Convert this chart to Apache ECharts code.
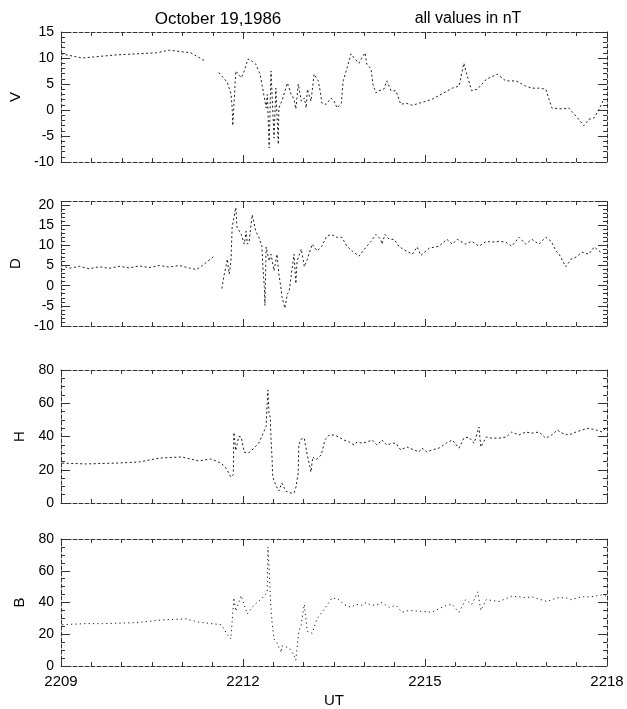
<!DOCTYPE html>
<html>
<head>
<meta charset="utf-8">
<script src="https://cdn.jsdelivr.net/npm/echarts@6/dist/echarts.min.js"></script>
<style>
  html, body { margin: 0; padding: 0; background: #fff; }
  #chart { width: 627px; height: 709px; }
</style>
</head>
<body>
<div id="chart"></div>
<script>
// Magnetometer components, October 19, 1986 (UT given as hhmm with decimal minutes)
const T0 = 2209;
const xTickLabels = ['2209', '2212', '2215', '2218'];
const panelNames = ['V', 'D', 'H', 'B'];

const vTime = [2209.00, 2209.35, 2209.91, 2210.57, 2210.78, 2210.99, 2211.14, 2211.39, 2211.50, 2211.60,
  2211.74, 2211.80, 2211.82, 2211.83, 2211.88, 2211.97, 2212.02, 2212.08, 2212.15, 2212.21,
  2212.28, 2212.31, 2212.38, 2212.40, 2212.43, 2212.46, 2212.51, 2212.54, 2212.58, 2212.59,
  2212.64, 2212.73, 2212.79, 2212.84, 2212.87, 2212.91, 2212.96, 2213.01, 2213.04, 2213.06,
  2213.12, 2213.17, 2213.20, 2213.24, 2213.27, 2213.30, 2213.37, 2213.45, 2213.50, 2213.55,
  2213.62, 2213.65, 2213.70, 2213.78, 2213.83, 2213.91, 2213.96, 2214.01, 2214.04, 2214.11,
  2214.14, 2214.19, 2214.24, 2214.32, 2214.37, 2214.44, 2214.52, 2214.60, 2214.69, 2214.79,
  2214.90, 2215.02, 2215.12, 2215.28, 2215.45, 2215.56, 2215.64, 2215.68, 2215.72, 2215.77,
  2215.86, 2216.01, 2216.19, 2216.33, 2216.50, 2216.66, 2216.76, 2216.88, 2216.99, 2217.09,
  2217.26, 2217.37, 2217.49, 2217.62, 2217.70, 2217.79, 2217.87, 2217.95];
const vValue = [10.8, 10.0, 10.6, 11.0, 11.5, 11.2, 11.0, 9.3, '-', 7.2,
  5.3, 3.1, 0.4, -3.0, 7.5, 6.2, 7.5, 9.8, 9.4, 8.8,
  6.9, 5.0, 0.4, 3.0, -7.3, 7.5, -5.4, 4.2, -6.6, 0.4,
  1.7, 5.2, 3.1, 2.1, 0.2, 5.0, 1.7, 2.3, 0.4, 4.0,
  1.7, 6.9, 7.1, 5.6, 3.7, 1.3, 1.1, 2.3, 1.7, 0.4,
  1.3, 5.6, 7.5, 10.8, 10.0, 9.0, 10.0, 11.0, 8.8, 7.9,
  5.0, 3.3, 3.7, 4.0, 5.6, 3.7, 3.7, 1.1, 1.3, 0.9,
  1.3, 1.7, 2.1, 3.1, 4.2, 4.6, 9.0, 7.2, 5.6, 3.7,
  4.0, 5.9, 6.9, 5.6, 5.6, 4.6, 4.2, 4.2, 4.0, 0.4,
  0.2, 0.4, -1.2, -3.0, -1.8, -1.5, 0.2, 2.1];

const dTime = [2209.00, 2209.13, 2209.30, 2209.46, 2209.63, 2209.79, 2209.96, 2210.12, 2210.29, 2210.45,
  2210.62, 2210.78, 2210.95, 2211.11, 2211.23, 2211.32, 2211.52, 2211.58, 2211.65, 2211.69,
  2211.72, 2211.74, 2211.77, 2211.80, 2211.82, 2211.88, 2211.90, 2211.93, 2211.97, 2212.02,
  2212.05, 2212.07, 2212.10, 2212.15, 2212.16, 2212.21, 2212.26, 2212.31, 2212.33, 2212.35,
  2212.36, 2212.38, 2212.40, 2212.43, 2212.46, 2212.51, 2212.56, 2212.59, 2212.63, 2212.64,
  2212.69, 2212.73, 2212.76, 2212.79, 2212.84, 2212.87, 2212.89, 2212.96, 2213.01, 2213.06,
  2213.14, 2213.22, 2213.30, 2213.38, 2213.45, 2213.55, 2213.63, 2213.71, 2213.80, 2213.91,
  2214.03, 2214.11, 2214.19, 2214.27, 2214.29, 2214.34, 2214.41, 2214.49, 2214.57, 2214.69,
  2214.79, 2214.87, 2214.93, 2215.07, 2215.23, 2215.36, 2215.45, 2215.53, 2215.67, 2215.77,
  2215.89, 2216.01, 2216.10, 2216.22, 2216.33, 2216.43, 2216.55, 2216.66, 2216.76, 2216.88,
  2216.99, 2217.08, 2217.16, 2217.21, 2217.32, 2217.41, 2217.49, 2217.59, 2217.70, 2217.79,
  2217.92];
const dValue = [5.1, 4.3, 4.8, 4.2, 4.7, 4.3, 4.8, 4.4, 4.9, 4.5,
  5.0, 4.6, 5.0, 4.4, 4.0, 4.9, 7.3, '-', -0.7, 2.9,
  4.9, 6.6, 2.9, 6.1, 14.5, 19.4, 14.5, 14.7, 12.7, 10.3,
  13.5, 10.3, 11.0, 17.6, 18.0, 13.5, 12.0, 9.8, 3.7, -0.2,
  -4.9, 9.6, 9.8, 6.1, 7.8, 3.7, 7.8, 2.9, -1.2, -2.7,
  -5.6, -2.0, -1.5, 2.2, 7.8, 0.5, 6.1, 9.1, 4.7, 6.6,
  10.3, 8.6, 9.8, 12.3, 12.7, 12.0, 12.0, 9.8, 8.6, 7.3,
  9.6, 11.0, 12.7, 11.5, 10.3, 12.7, 11.5, 11.5, 9.7, 8.6,
  7.8, 9.6, 7.5, 9.3, 9.8, 11.5, 10.3, 11.5, 10.3, 11.0,
  9.8, 11.0, 10.8, 11.0, 10.8, 9.8, 12.0, 10.3, 11.5, 10.3,
  12.0, 11.0, 8.6, 7.8, 4.7, 6.6, 7.1, 8.3, 7.8, 9.6,
  8.0];

const hTime = [2209.02, 2209.41, 2209.91, 2210.29, 2210.62, 2210.99, 2211.27, 2211.47, 2211.64, 2211.72,
  2211.80, 2211.84, 2211.85, 2211.88, 2211.93, 2211.97, 2212.02, 2212.10, 2212.18, 2212.26,
  2212.31, 2212.38, 2212.41, 2212.43, 2212.45, 2212.46, 2212.48, 2212.49, 2212.51, 2212.54,
  2212.59, 2212.64, 2212.71, 2212.79, 2212.84, 2212.86, 2212.87, 2212.91, 2212.92, 2212.96,
  2213.01, 2213.04, 2213.05, 2213.12, 2213.15, 2213.20, 2213.25, 2213.29, 2213.35, 2213.42,
  2213.50, 2213.58, 2213.66, 2213.75, 2213.83, 2213.88, 2213.96, 2214.04, 2214.13, 2214.21,
  2214.29, 2214.37, 2214.46, 2214.52, 2214.60, 2214.70, 2214.82, 2214.90, 2214.95, 2215.03,
  2215.12, 2215.23, 2215.35, 2215.45, 2215.56, 2215.64, 2215.72, 2215.81, 2215.89, 2215.92,
  2216.01, 2216.10, 2216.22, 2216.34, 2216.43, 2216.55, 2216.66, 2216.76, 2216.88, 2216.99,
  2217.09, 2217.18, 2217.26, 2217.37, 2217.49, 2217.59, 2217.70, 2217.82, 2217.92, 2217.98];
const hValue = [24.0, 23.5, 24.0, 24.7, 27.0, 27.7, 25.3, 26.5, 24.0, 21.0,
  15.6, 17.0, 42.5, 31.5, 40.0, 39.7, 30.5, 30.3, 33.0, 36.0,
  40.0, 46.0, 68.0, 53.0, 51.7, 40.0, 26.0, 15.6, 15.0, 10.8,
  7.2, 12.0, 7.0, 6.0, 6.0, 4.8, 9.0, 18.0, 35.0, 38.5,
  39.0, 37.9, 30.7, 18.6, 27.7, 25.9, 27.7, 28.9, 37.9, 40.9,
  40.9, 39.7, 37.9, 36.7, 34.9, 36.7, 36.0, 36.7, 37.9, 34.9,
  37.9, 34.9, 36.0, 36.0, 31.9, 33.7, 31.9, 30.7, 33.0, 30.7,
  32.0, 33.0, 36.0, 37.9, 33.0, 39.0, 39.7, 36.0, 45.7, 33.7,
  39.7, 39.0, 39.0, 39.7, 42.7, 40.9, 42.7, 42.0, 42.7, 39.0,
  40.9, 43.9, 42.0, 40.9, 42.7, 43.9, 45.0, 43.9, 42.7, 45.0];

const bTime = [2209.02, 2209.41, 2209.68, 2210.24, 2210.66, 2211.06, 2211.27, 2211.64, 2211.74, 2211.80,
  2211.85, 2211.88, 2211.97, 2212.07, 2212.15, 2212.23, 2212.31, 2212.40, 2212.41, 2212.43,
  2212.45, 2212.46, 2212.48, 2212.51, 2212.54, 2212.56, 2212.63, 2212.64, 2212.71, 2212.76,
  2212.84, 2212.87, 2212.92, 2212.96, 2213.01, 2213.06, 2213.14, 2213.22, 2213.25, 2213.34,
  2213.47, 2213.58, 2213.66, 2213.78, 2213.86, 2213.96, 2214.03, 2214.08, 2214.19, 2214.29,
  2214.32, 2214.41, 2214.52, 2214.62, 2214.74, 2215.11, 2215.35, 2215.45, 2215.56, 2215.67,
  2215.77, 2215.87, 2215.92, 2216.01, 2216.22, 2216.43, 2216.55, 2216.66, 2216.76, 2217.01,
  2217.18, 2217.32, 2217.41, 2217.59, 2217.75, 2217.92, 2217.98];
const bValue = [26.0, 26.7, 26.7, 27.3, 29.0, 29.7, 27.6, 26.0, 20.0, 17.0,
  43.0, 34.5, 44.4, 32.7, 37.0, 40.0, 42.5, 46.5, 75.0, 62.0,
  44.8, 37.0, 27.0, 17.0, 17.6, 14.5, 8.5, 12.7, 12.0, 11.5,
  6.7, 3.6, 21.8, 26.0, 38.8, 21.8, 20.6, 29.7, 29.7, 35.8,
  43.0, 41.8, 38.8, 37.0, 38.8, 38.2, 40.0, 38.8, 38.2, 40.0,
  38.8, 37.0, 38.2, 33.9, 35.0, 33.9, 38.2, 38.8, 33.9, 41.8,
  38.8, 46.7, 35.0, 41.8, 40.6, 44.0, 43.6, 43.0, 43.6, 40.6,
  43.0, 43.0, 41.8, 43.6, 43.6, 44.8, 44.0];

const panelTimes = [vTime, dTime, hTime, bTime];
const panelValues = [vValue, dValue, hValue, bValue];

// axis range per component (nT): min, max, label step, minor divisions
const yRange = [[-10, 15, 5, 5], [-10, 21, 5, 5], [0, 80, 20, 4], [0, 80, 20, 4]];
const gridTop = [32, 201, 370, 539];
const gridHeight = [130, 125, 133, 132];
const nameGap = [38, 38, 31, 31];
const traceDash = [[2, 2.5], [2, 2.5], [2, 2.5], [1.2, 3.2]];

const font = 'Liberation Sans, Arial, Helvetica, sans-serif';
const frameStyle = { color: '#333', width: 1, type: [4, 2] };
const tickStyle = { color: '#333', width: 1 };

const grids = [], xAxes = [], yAxes = [], series = [];
panelNames.forEach((name, i) => {
  grids.push({ left: 61, right: 20, top: gridTop[i], height: gridHeight[i], containLabel: false });
  const xBase = {
    type: 'value', gridIndex: i, min: 0, max: 9, interval: 3,
    axisLine: { show: true, onZero: false, lineStyle: frameStyle },
    axisTick: { show: true, inside: true, length: 7, lineStyle: tickStyle },
    minorTick: { show: true, splitNumber: 6, length: 4, lineStyle: tickStyle },
    splitLine: { show: false }
  };
  xAxes.push(Object.assign({}, xBase, {
    position: 'bottom',
    axisLabel: {
      show: i === 3, margin: 8, color: '#000', fontSize: 15, fontFamily: font,
      formatter: v => xTickLabels[Math.round(v / 3)] || ''
    },
    name: i === 3 ? 'UT' : '', nameLocation: 'middle', nameGap: 27,
    nameTextStyle: { color: '#000', fontSize: 15, fontFamily: font }
  }));
  xAxes.push(Object.assign({}, xBase, { position: 'top', axisLabel: { show: false } }));

  const [lo, hi, step, minorSplit] = yRange[i];
  const yBase = {
    type: 'value', gridIndex: i, min: lo, max: hi, interval: step,
    axisLine: { show: true, onZero: false, lineStyle: frameStyle },
    axisTick: { show: true, inside: true, length: 9, lineStyle: tickStyle },
    minorTick: { show: true, splitNumber: minorSplit, length: 4, lineStyle: tickStyle },
    splitLine: { show: false }
  };
  yAxes.push(Object.assign({}, yBase, {
    position: 'left',
    axisLabel: {
      margin: 7, color: '#000', fontSize: 14, fontFamily: font,
      formatter: v => (v % step === 0 ? String(v) : '')
    },
    name: name, nameLocation: 'middle', nameRotate: 90, nameGap: nameGap[i],
    nameTextStyle: { color: '#000', fontSize: 15, fontFamily: font }
  }));
  yAxes.push(Object.assign({}, yBase, { position: 'right', axisLabel: { show: false } }));

  const times = panelTimes[i];
  const values = panelValues[i];
  series.push({
    type: 'line', xAxisIndex: 2 * i, yAxisIndex: 2 * i,
    data: times.map((t, k) => [t - T0, values[k]]),
    showSymbol: false, connectNulls: false, silent: true,
    lineStyle: { color: '#1a1a1a', width: 1, type: traceDash[i] }
  });
});

const chart = echarts.init(document.getElementById('chart'), null, { renderer: 'canvas' });
chart.setOption({
  animation: false,
  backgroundColor: '#fff',
  title: [
    { text: 'October 19,1986', left: 213, top: 6, textAlign: 'center',
      textStyle: { color: '#000', fontSize: 17, fontWeight: 'normal', fontFamily: font } },
    { text: 'all values in nT', left: 463, top: 6, textAlign: 'center',
      textStyle: { color: '#000', fontSize: 16, fontWeight: 'normal', fontFamily: font } }
  ],
  grid: grids,
  xAxis: xAxes,
  yAxis: yAxes,
  series: series
});
</script>
</body>
</html>
